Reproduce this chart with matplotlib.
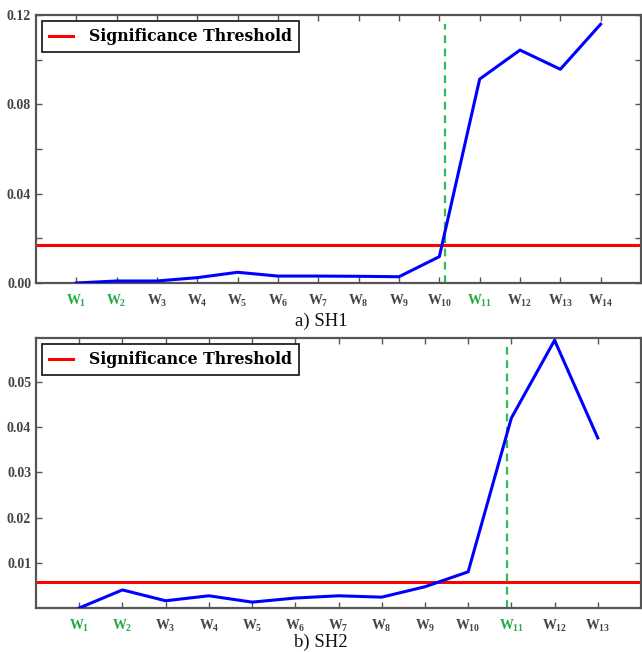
import matplotlib
matplotlib.use("Agg")
import matplotlib.pyplot as plt

# ---- data ----
labels_a = ["W$_{%d}$" % i for i in range(1, 15)]
values_a = [0.0, 0.0009, 0.0009, 0.0024, 0.0048, 0.0031, 0.0031, 0.0030,
            0.0028, 0.0118, 0.0913, 0.1043, 0.0957, 0.1159]
threshold_a = 0.0170
change_a = 10.15
green_a = [1, 2, 11]

labels_b = ["W$_{%d}$" % i for i in range(1, 14)]
values_b = [0.0, 0.0040, 0.0016, 0.0027, 0.0013, 0.0022, 0.0027, 0.0024,
            0.0047, 0.0080, 0.0420, 0.0592, 0.0376]
threshold_b = 0.0058
change_b = 10.9
green_b = [1, 2, 11]

plt.rcParams['font.family'] = ['Liberation Serif', 'DejaVu Serif']
plt.rcParams['mathtext.default'] = 'regular'

fig = plt.figure(figsize=(6.42, 6.52), dpi=100)
W, H = 642, 652

def make_ax(l, t, r, b):
    return fig.add_axes([l / W, 1 - b / H, (r - l) / W, (b - t) / H])

ax1 = make_ax(36, 15, 641, 283)
ax2 = make_ax(36, 338, 641, 608)

BLUE = '#0000ff'
RED = '#ff0000'
DGREEN = '#2ebd5a'
LGREEN = '#22aa44'
GRAY = '#444444'

def style(ax, n, labels, greens):
    x = list(range(1, n + 1))
    ax.set_xlim(0, n + 1)
    ax.set_xticks(x)
    for s in ax.spines.values():
        s.set_color('#555555')
        s.set_linewidth(1.6)
    ax.tick_params(direction='in', top=True, right=True, length=4,
                   width=1, color='#555555', labelsize=10, labelcolor=GRAY)
    ax.tick_params(axis='x', pad=7)
    ax.set_xticklabels(labels, fontweight='bold')
    for i, t in enumerate(ax.get_xticklabels()):
        t.set_color(LGREEN if (i + 1) in greens else GRAY)
    for t in ax.get_yticklabels():
        t.set_fontweight('bold')

# panel a
xa = list(range(1, len(values_a) + 1))
ax1.plot(xa, values_a, color=BLUE, lw=2.2, zorder=3)
ax1.axhline(threshold_a, color=RED, lw=2.2, label='Significance Threshold', zorder=2)
ax1.vlines(change_a, 0, max(values_a), colors=DGREEN, linestyles=(0, (3.5, 2.5)), lw=1.6, zorder=2)
ax1.set_ylim(0, 0.12)
ax1.set_yticks([0, 0.02, 0.04, 0.06, 0.08, 0.10, 0.12])
ax1.set_yticklabels(['0.00', '', '0.04', '', '0.08', '', '0.12'])
style(ax1, len(values_a), labels_a, green_a)

# panel b
xb = list(range(1, len(values_b) + 1))
ax2.plot(xb, values_b, color=BLUE, lw=2.2, zorder=3)
ax2.axhline(threshold_b, color=RED, lw=2.2, label='Significance Threshold', zorder=2)
ax2.vlines(change_b, 0, 0.0582, colors=DGREEN, linestyles=(0, (3.5, 2.5)), lw=1.6, zorder=2)
ax2.set_ylim(0, 0.0597)
ax2.set_yticks([0.01, 0.02, 0.03, 0.04, 0.05])
ax2.set_yticklabels(['0.01', '0.02', '0.03', '0.04', '0.05'])
style(ax2, len(values_b), labels_b, green_b)

for ax in (ax1, ax2):
    leg = ax.legend(loc='upper left', fancybox=False, handlelength=1.5,
                    handletextpad=1.0, borderaxespad=0.4, borderpad=0.45,
                    prop={'family': 'DejaVu Serif', 'weight': 'bold', 'size': 11.3})
    leg.get_frame().set_edgecolor('#222222')
    leg.get_frame().set_linewidth(1.3)
    leg.get_frame().set_alpha(1)

fig.text(0.5, 1 - 321 / H, 'a) SH1', ha='center', va='center', fontsize=13.5, color='#111111')
fig.text(0.5, 1 - 642 / H, 'b) SH2', ha='center', va='center', fontsize=13.5, color='#111111')

fig.savefig('out.png', dpi=100)
